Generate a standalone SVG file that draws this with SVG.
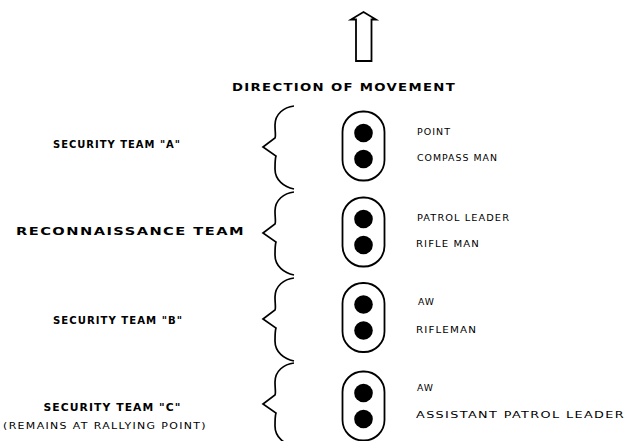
<svg xmlns="http://www.w3.org/2000/svg" width="631" height="441" viewBox="0 0 631 441">
<style>
.bg{fill:#fff}
.lbl{font-family:"DejaVu Sans","Liberation Sans",sans-serif;font-weight:bold;font-size:10px;letter-spacing:1px;fill:#000}
.sub{font-family:"DejaVu Sans","Liberation Sans",sans-serif;font-size:8px;letter-spacing:1px;fill:#000}
.pos{font-family:"DejaVu Sans","Liberation Sans",sans-serif;font-size:9.2px;letter-spacing:1px;fill:#000}
.pill{fill:none;stroke:#000;stroke-width:1.8}
.man{fill:#000}
.brace{fill:none;stroke:#000;stroke-width:1.7;stroke-linejoin:miter}
</style>
<defs>
<path id="br" class="brace" d="M294,-41 C284,-40 275,-33 275,-22 C275,-15 276,-11 275,-9 L263,0 L276,9 C275,12 275,16 275,22 C275,33 284,40 294,42"/>
<g id="pillshape">
<rect class="pill" x="-21" y="-34.5" width="42" height="69" rx="20.5"/>
<circle class="man" cx="0" cy="-13" r="9.3"/>
<circle class="man" cx="0" cy="13" r="9.3"/>
</g>
</defs>
<rect class="bg" x="0" y="0" width="631" height="441"/>
<g id="direction-arrow">
<polygon points="356,61 356,19.5 351,19.5 363.5,12 376,19.5 371.5,19.5 371.5,61" fill="none" stroke="#000" stroke-width="1.8" stroke-linejoin="miter"/>
</g>
<g id="direction-label">
<text class="lbl" x="232" y="91" textLength="224" lengthAdjust="spacingAndGlyphs">DIRECTION OF MOVEMENT</text>
</g>
<g id="connectors">
<use href="#br" transform="translate(0,147)"/>
<use href="#br" transform="translate(0,233)"/>
<use href="#br" transform="translate(0,319)"/>
<use href="#br" transform="translate(0,404)"/>
</g>
<g id="team-a">
<text class="lbl" x="53" y="148" textLength="128" lengthAdjust="spacingAndGlyphs">SECURITY TEAM "A"</text>
<use href="#pillshape" transform="translate(363.5,146)"/>
<text class="pos" x="417" y="135" textLength="34" lengthAdjust="spacingAndGlyphs">POINT</text>
<text class="pos" x="417" y="161" textLength="81" lengthAdjust="spacingAndGlyphs">COMPASS MAN</text>
</g>
<g id="recon-team">
<text class="lbl" x="16" y="235" textLength="229" lengthAdjust="spacingAndGlyphs">RECONNAISSANCE TEAM</text>
<use href="#pillshape" transform="translate(363.5,232)"/>
<text class="pos" x="417" y="220.5" textLength="93" lengthAdjust="spacingAndGlyphs">PATROL LEADER</text>
<text class="pos" x="416" y="246.5" textLength="64" lengthAdjust="spacingAndGlyphs">RIFLE MAN</text>
</g>
<g id="team-b">
<text class="lbl" x="53" y="324" textLength="130" lengthAdjust="spacingAndGlyphs">SECURITY TEAM "B"</text>
<use href="#pillshape" transform="translate(363.5,317.5)"/>
<text class="pos" x="418" y="305" textLength="17" lengthAdjust="spacingAndGlyphs">AW</text>
<text class="pos" x="416" y="332.5" textLength="61" lengthAdjust="spacingAndGlyphs">RIFLEMAN</text>
</g>
<g id="team-c">
<text class="lbl" x="43.5" y="411" textLength="138" lengthAdjust="spacingAndGlyphs">SECURITY TEAM "C"</text>
<text class="sub" x="3" y="429" textLength="204" lengthAdjust="spacingAndGlyphs">(REMAINS AT RALLYING POINT)</text>
<use href="#pillshape" transform="translate(363.5,406)"/>
<text class="pos" x="417" y="391" textLength="17" lengthAdjust="spacingAndGlyphs">AW</text>
<text class="pos" x="416" y="417.5" textLength="209" lengthAdjust="spacingAndGlyphs">ASSISTANT PATROL LEADER</text>
</g>
</svg>
